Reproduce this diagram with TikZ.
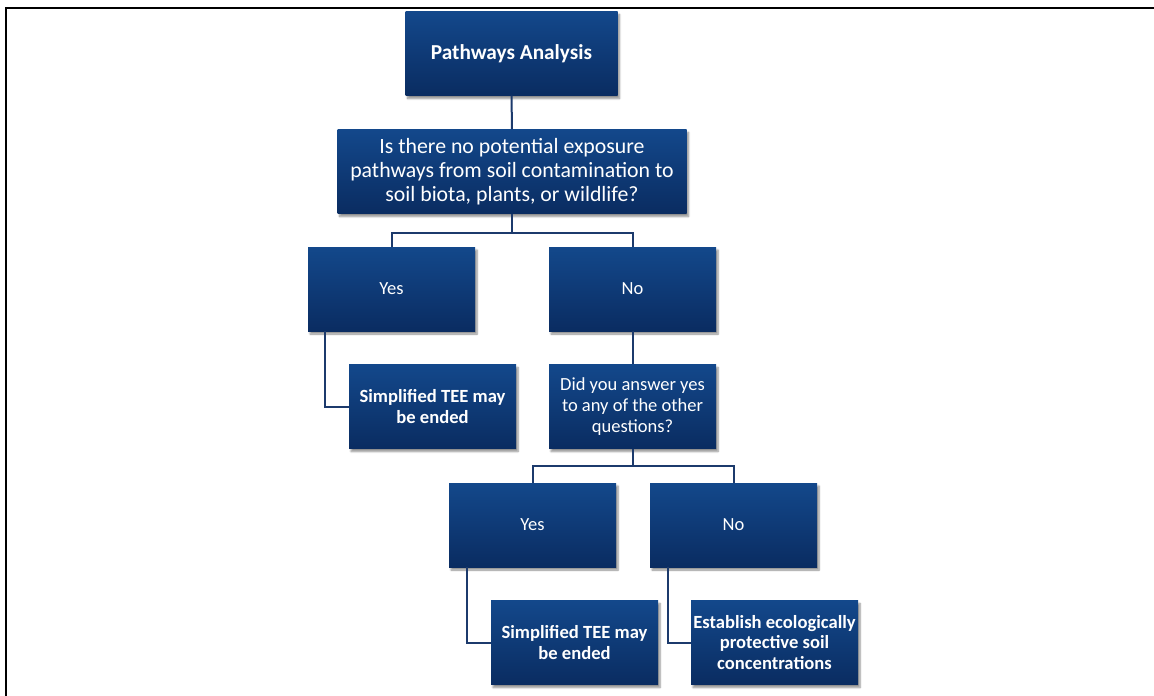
\documentclass[tikz,border=0pt]{standalone}
\usepackage{fontspec}
\setmainfont{Carlito}
\usetikzlibrary{calc,shadows.blur}
\definecolor{boxtop}{RGB}{19,72,139}
\definecolor{boxbot}{RGB}{10,44,97}
\definecolor{linkcol}{RGB}{28,58,108}
\tikzset{
  box/.style={rectangle, minimum width=167pt, minimum height=84pt, inner sep=0pt,
    top color=boxtop, bottom color=boxbot, draw=none, text=white, align=center,
    blur shadow={shadow xshift=2pt, shadow yshift=-3pt, shadow blur steps=6, shadow opacity=45}},
  wide/.style={minimum width=349pt},
  head/.style={minimum width=212pt},
  qfont/.style={font=\fontsize{21.8}{24}\selectfont},
  sfont/.style={font=\fontsize{18.5}{20.7}\selectfont},
  bfont/.style={font=\bfseries\fontsize{18.6}{20.5}\selectfont},
  link/.style={draw=linkcol, line width=2pt},
}
\begin{document}
\begin{tikzpicture}[x=1pt,y=-1pt]
\useasboundingbox (0,0) rectangle (1154,696);
% page frame
\draw[line width=2pt] (6,697) -- (6,7.7) -- (1155,7.7);

% boxes
\node[box,head,font=\bfseries\fontsize{21.3}{24}\selectfont] (pa) at (511.5,53.5) {Pathways Analysis};
\node[box,wide,qfont] (q) at (512,171.5) {Is there no potential exposure\\pathways from soil contamination to\\soil biota, plants, or wildlife?};
\node[box,sfont] (yes1) at (391.5,289) {Yes};
\node[box,sfont] (no1) at (632.5,289) {No};
\node[box,bfont] (end1) at (432.5,406.5) {Simplified TEE may\\be ended};
\node[box,sfont] (ask) at (632.5,406.5) {Did you answer yes\\to any of the other\\questions?};
\node[box,sfont] (yes2) at (532.5,525) {Yes};
\node[box,sfont] (no2) at (733.5,525) {No};
\node[box,bfont] (end2) at (574.5,642.5) {Simplified TEE may\\be ended};
\node[box,bfont] (est) at (774.5,642.5) {Establish ecologically\\protective soil\\concentrations};

% connectors
\draw[link] (pa.south) -- (q.north);
\coordinate (j1) at ($(q.south)+(0,19)$);
\draw[link] (q.south) -- (j1) -| (yes1.north);
\draw[link] (j1) -| (no1.north);
\draw[link] ($(yes1.south west)+(17,0)$) |- (end1.west);
\draw[link] (no1.south) -- (ask.north);
\coordinate (j2) at ($(ask.south)+(0,17)$);
\draw[link] (ask.south) -- (j2) -| (yes2.north);
\draw[link] (j2) -| (no2.north);
\draw[link] ($(yes2.south west)+(18,0)$) |- (end2.west);
\draw[link] ($(no2.south west)+(18,0)$) |- (est.west);
\end{tikzpicture}
\end{document}
